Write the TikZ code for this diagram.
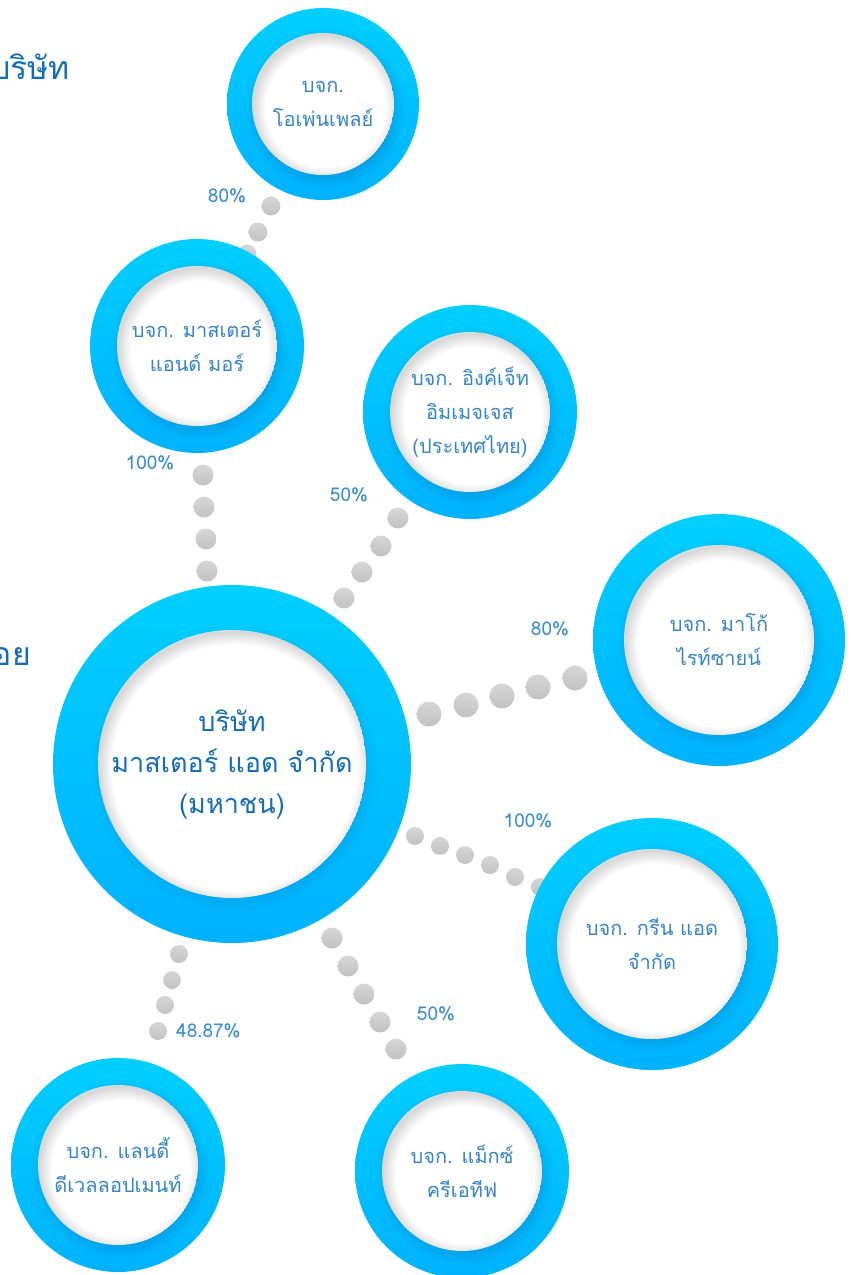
\documentclass[tikz,border=0pt]{standalone}
\usepackage{fontspec}
\setmainfont[Script=Thai]{Loma}
\usetikzlibrary{fadings}
\definecolor{ringT}{RGB}{0,207,255}
\definecolor{ringB}{RGB}{0,178,253}
\definecolor{ringS}{RGB}{0,120,190}
\definecolor{txtsub}{RGB}{52,132,198}
\definecolor{txtmain}{RGB}{20,108,180}
\definecolor{pct}{RGB}{58,140,205}
\definecolor{dotT}{RGB}{214,214,214}
\definecolor{dotB}{RGB}{194,194,194}
\tikzset{
  subtext/.style={text=txtsub, align=center, font=\fontsize{20}{34}\selectfont},
  maintext/.style={text=txtmain, align=center, font=\fontsize{27}{41}\selectfont},
  pctlabel/.style={text=pct, font=\fontsize{19}{22}\selectfont, inner sep=0pt},
  headtext/.style={text=txtmain, font=\fontsize{32}{36}\selectfont, inner sep=0pt},
  graydot/.style={top color=dotT, bottom color=dotB},
  ringfill/.style={top color=ringT, bottom color=ringB},
  castshadow/.style={fill=ringS, opacity=0.4, path fading=circle with fuzzy edge 20 percent},
  glowstroke/.style={draw=black, opacity=0.012}
}
\begin{document}
\begin{tikzpicture}[x=1pt,y=-1pt]
\useasboundingbox (0,0) rectangle (851,1275);
% headings cut off at the left edge
\node[headtext, anchor=east] (headA) at (70,67) {บริษัท};
\node[headtext, anchor=east] (headB) at (31,653) {บริษัทย่อย};
% dotted connectors
\foreach \x/\y in {271/206,258/232,247/254} {\shade[graydot] (\x,\y) circle (9.5pt);}
\foreach \x/\y in {203/475,204/507,206/539,207/571} {\shade[graydot] (\x,\y) circle (10.5pt);}
\foreach \x/\y in {398/518,381/546,362/572,344/598} {\shade[graydot] (\x,\y) circle (10.5pt);}
\foreach \x/\y in {429/714,466/705,502/696,538/687,575/678} {\shade[graydot] (\x,\y) circle (12.5pt);}
\foreach \x/\y in {415/836,440/846,465/855,490/865,515/877,540/887} {\shade[graydot] (\x,\y) circle (9pt);}
\foreach \x/\y in {179/954,172/980,165/1005,158/1031} {\shade[graydot] (\x,\y) circle (9pt);}
\foreach \x/\y in {332/938,348/966,364/994,380/1022,396/1049} {\shade[graydot] (\x,\y) circle (10.5pt);}
% circles: x / y / outer R / inner r
\foreach \cx/\cy/\R/\r in {323/104/96/71, 197/346/107/80, 470/412/107/80, 719/640/126/95, 232/764/179/134, 652/944/126/95, 118/1165/107/80, 462/1171/107/80} {
  \shade[ringfill] (\cx,\cy) circle (\R pt);
  \fill[castshadow] (\cx+2,\cy+4) circle (\r pt + 9pt);
  \begin{scope}
    \clip (\cx,\cy) circle (\r pt);
    \fill[white] (\cx,\cy) circle (\r pt);
    \foreach \w in {2,4,...,26} {\draw[glowstroke, line width=\w pt] (\cx+3,\cy+4) circle (\r pt + 2pt);}
  \end{scope}
}
% texts
\node[subtext] (openplay) at (323,104) {บจก.\\โอเพ่นเพลย์};
\node[subtext] (mam) at (197,346) {บจก. มาสเตอร์\\แอนด์ มอร์};
\node[subtext] (inkjet) at (470,412) {บจก. อิงค์เจ็ท\\อิมเมจเจส\\(ประเทศไทย)};
\node[subtext] (mako) at (719,640) {บจก. มาโก้\\ไรท์ซายน์};
\node[maintext] (main) at (232,764) {บริษัท\\มาสเตอร์ แอด จำกัด\\(มหาชน)};
\node[subtext] (green) at (652,944) {บจก. กรีน แอด\\จำกัด};
\node[subtext] (landy) at (118,1165) {บจก. แลนดี้\\ดีเวลลอปเมนท์};
\node[subtext] (maxc) at (462,1171) {บจก. แม็กซ์\\ครีเอทีฟ};
% percentages
\node[pctlabel] (p1) at (227,196) {80\%};
\node[pctlabel] (p2) at (150,463) {100\%};
\node[pctlabel] (p3) at (349,495) {50\%};
\node[pctlabel] (p4) at (550,629) {80\%};
\node[pctlabel] (p5) at (528,821) {100\%};
\node[pctlabel, anchor=west] (p6) at (176,1031) {48.87\%};
\node[pctlabel] (p7) at (436,1014) {50\%};
\end{tikzpicture}
\end{document}
